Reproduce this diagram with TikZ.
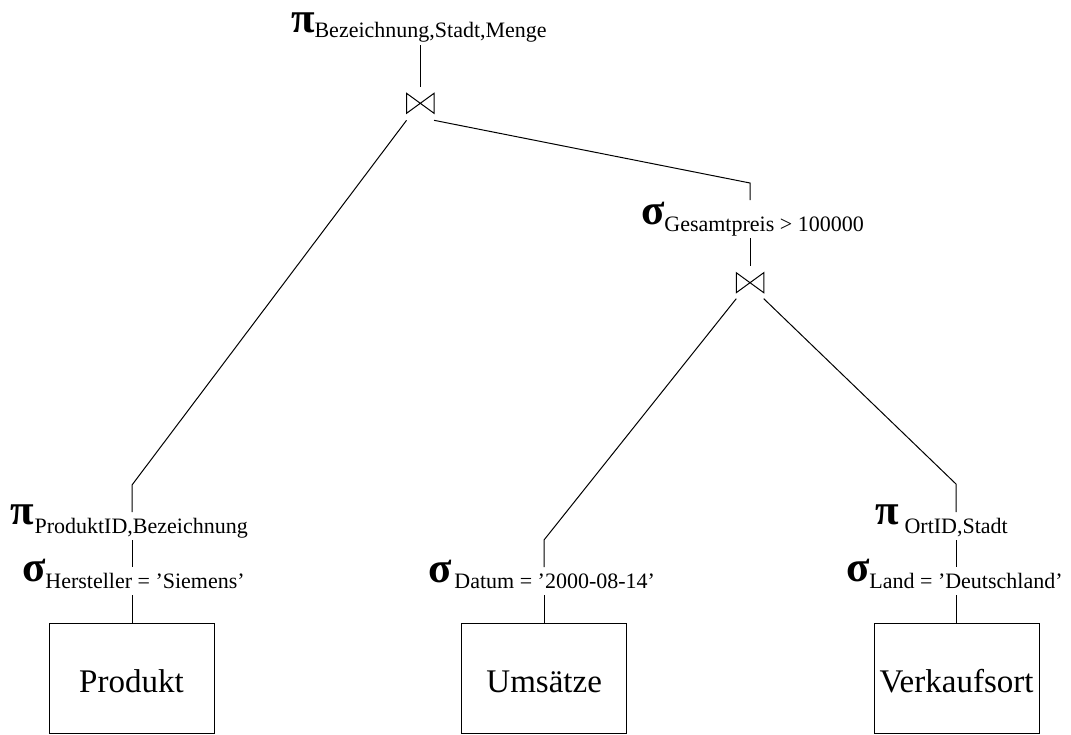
\documentclass[tikz,border=0pt]{standalone}
\usepackage{fontspec}
\setmainfont{Liberation Serif}
\newcommand\grk[1]{{\fontsize{43}{43}\selectfont\bfseries #1}}
\newcommand\opl[4]{\raisebox{#1pt}{\grk{#2}}\hspace{#3pt}{\fontsize{22}{22}\selectfont #4}}
\begin{document}
\begin{tikzpicture}[x=1pt,y=-1pt, line width=1pt,
  oplabel/.style={inner xsep=0pt, inner ysep=0pt, outer sep=0pt, anchor=base west, text height=21pt, text depth=7pt},
  relbox/.style={draw, minimum width=165pt, minimum height=110pt, inner sep=0pt, text height=28pt, text depth=0pt, font=\fontsize{33}{33}\selectfont},
  joinnode/.style={minimum width=27.5pt, minimum height=20pt, inner sep=0pt, outer sep=0pt}]
\useasboundingbox (0,0) rectangle (1071,734);

\node[oplabel, text depth=8pt] (pTop) at (291,37) {\opl{5}{π}{0}{Bezeichnung,Stadt,Menge}};
\node[joinnode] (j1) at (420.3,103.3) {};
\node[oplabel, text height=31pt] (sG) at (641,231) {\opl{7}{σ}{0}{Gesamtpreis > 100000}};
\node[joinnode] (j2) at (750,282.7) {};
\node[oplabel] (pP) at (10,533) {\opl{9}{π}{1}{ProduktID,Bezeichnung}};
\node[oplabel] (sH) at (22,588) {\opl{7}{σ}{0}{Hersteller = ’Siemens’}};
\node[oplabel] (sD) at (428,588) {\opl{6}{σ}{3}{Datum = ’2000-08-14’}};
\node[oplabel] (pO) at (875,533) {\opl{9}{π}{6}{OrtID,Stadt}};
\node[oplabel] (sL) at (846,588) {\opl{7}{σ}{0}{Land = ’Deutschland’}};
\node[relbox] (Prod) at (131.5,678) {Produkt};
\node[relbox] (Ums) at (544.2,678) {Umsätze};
\node[relbox] (Verk) at (956.5,678) {Verkaufsort};

\draw (j1.north west) -- (j1.south east) -- (j1.north east) -- (j1.south west) -- cycle;
\draw (j2.north west) -- (j2.south east) -- (j2.north east) -- (j2.south west) -- cycle;

\coordinate (bL) at (132,485);
\coordinate (bR) at (750,183);
\coordinate (bM) at (544,540);
\coordinate (bO) at (956,484);

\draw[shorten >=6pt] (pTop.south -| j1) -- (j1.north);
\draw ([yshift=-7pt]j1.south west) -- (bL) -- (pP.north -| bL);
\draw ([yshift=-7pt]j1.south east) -- (bR) -- (sG.north -| bR);
\draw[shorten >=7pt] (sG.south -| j2) -- (j2.north);
\draw ([yshift=-6pt]j2.south west) -- (bM) -- (sD.north -| bM);
\draw ([yshift=-6pt]j2.south east) -- (bO) -- (pO.north -| bO);
\draw (pP.south -| bL) -- (sH.north -| bL);
\draw (sH.south -| bL) -- (Prod.north -| bL);
\draw (sD.south -| bM) -- (Ums.north -| bM);
\draw (pO.south -| bO) -- (sL.north -| bO);
\draw (sL.south -| bO) -- (Verk.north -| bO);
\end{tikzpicture}
\end{document}
